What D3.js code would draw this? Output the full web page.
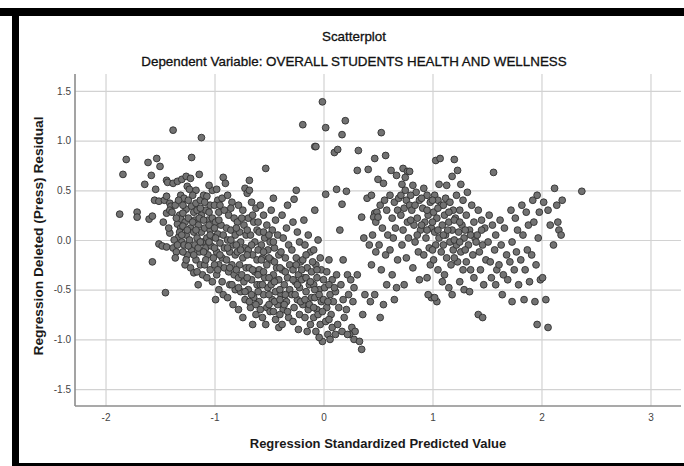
<!DOCTYPE html>
<html>
<head>
<meta charset="utf-8">
<script src="https://d3js.org/d3.v7.min.js"></script>
<style>
  body { margin: 0; background: #fff; }
  text { font-family: "Liberation Sans", Arial, sans-serif; }
</style>
</head>
<body>
<div class="plot"></div>
<script>
// chart texts
var chartTitle = "Scatterplot";
var chartSubtitle = "Dependent Variable: OVERALL STUDENTS HEALTH AND WELLNESS";
var xTitle = "Regression Standardized Predicted Value";
var yTitle = "Regression Deleted (Press) Residual";

// tick values
var xTicks = [-2, -1, 0, 1, 2, 3];
var yTicks = [-1.5, -1.0, -0.5, 0.0, 0.5, 1.0, 1.5];

// [predicted, residual]
var leftPoints = [
  [-1.87,0.26],[-1.84,0.66],[-1.81,0.81],[-1.71,0.28],[-1.71,0.23],
  [-1.64,0.56],[-1.61,0.78],[-1.60,0.21],[-1.58,0.65],[-1.57,0.24],[-1.55,0.40],[-1.53,0.82],[-1.54,0.51],
  [-1.51,0.39],[-1.50,0.74],[-1.51,-0.04],[-1.57,-0.22],
  [-1.48,-0.06],[-1.46,0.40],[-1.44,0.44],[-1.44,0.60],[-1.43,0.58],[-1.44,0.27],[-1.41,0.37],[-1.40,0.34],
  [-1.41,0.30],[-1.44,-0.07],[-1.41,0.07],[-1.45,-0.53],[-1.42,0.12],[-1.47,0.18],
  [-1.38,1.105],[-1.38,0.57],[-1.34,0.59],[-1.39,0.28],[-1.32,0.25],[-1.31,0.21],[-1.34,0.16],[-1.31,0.12],
  [-1.31,0.45],[-1.33,0.03],[-1.38,-0.08],[-1.35,-0.12],[-1.36,-0.18],[-1.30,-0.02],[-1.32,0.08],[-1.37,0.0],
  [-1.30,0.61],[-1.26,0.64],[-1.22,0.62],[-1.25,0.54],[-1.23,0.51],[-1.26,0.31],[-1.21,0.34],[-1.21,0.83],
  [-1.28,0.42],[-1.27,0.18],[-1.24,0.22],[-1.22,0.12],[-1.26,0.05],[-1.23,0.0],[-1.28,-0.05],[-1.25,-0.15],
  [-1.21,-0.10],[-1.27,-0.25],[-1.22,-0.28],[-1.29,0.27],
  [-1.19,0.28],[-1.17,0.37],[-1.17,0.50],[-1.13,0.40],[-1.14,0.66],[-1.12,1.03],[-1.18,0.20],[-1.15,0.15],
  [-1.12,0.25],[-1.19,0.08],[-1.16,0.02],[-1.12,0.08],[-1.18,-0.05],[-1.14,-0.12],[-1.11,-0.02],[-1.17,-0.20],
  [-1.13,-0.25],[-1.19,-0.33],[-1.11,-0.35],[-1.15,-0.45],
  [-1.10,0.45],[-1.07,0.44],[-1.02,0.50],[-1.08,0.30],[-1.04,0.35],[-1.06,0.20],[-1.02,0.22],[-1.09,0.12],
  [-1.04,0.10],[-1.07,0.02],[-1.01,0.03],[-1.08,-0.08],[-1.03,-0.06],[-1.06,-0.15],[-1.01,-0.18],[-1.09,-0.25],
  [-1.04,-0.30],[-1.07,-0.38],[-1.02,-0.42],[-1.05,0.55],
  [-0.98,0.51],[-0.92,0.63],[-0.90,0.57],[-0.97,0.40],[-0.93,0.42],[-0.96,0.28],[-0.91,0.30],[-0.99,0.18],
  [-0.94,0.15],[-0.97,0.06],[-0.92,0.05],[-0.95,-0.03],[-0.91,-0.08],[-0.98,-0.12],[-0.93,-0.18],[-0.96,-0.25],
  [-0.91,-0.28],[-0.98,-0.35],[-0.93,-0.42],[-0.96,-0.50],[-0.92,-0.55],[-0.99,-0.60],
  [-0.88,0.45],[-0.84,0.38],[-0.87,0.25],[-0.82,0.22],[-0.89,0.12],[-0.85,0.10],[-0.81,0.05],[-0.88,0.0],
  [-0.83,-0.05],[-0.86,-0.12],[-0.81,-0.15],[-0.89,-0.20],[-0.84,-0.25],[-0.87,-0.32],[-0.82,-0.35],[-0.86,-0.45],
  [-0.81,-0.50],[-0.88,-0.58],[-0.83,-0.65],[-0.85,0.32],
  [-0.72,0.52],[-0.70,0.47],[-0.78,0.35],[-0.74,0.30],[-0.79,0.18],[-0.73,0.15],[-0.77,0.08],[-0.71,0.05],
  [-0.76,-0.02],[-0.72,-0.08],[-0.79,-0.12],[-0.74,-0.18],[-0.77,-0.25],[-0.71,-0.28],[-0.78,-0.38],[-0.73,-0.42],
  [-0.76,-0.52],[-0.72,-0.60],[-0.78,-0.70],[-0.74,-0.78],
  [-0.68,0.60],[-0.68,0.50],[-0.66,0.38],[-0.62,0.32],[-0.69,0.22],[-0.64,0.18],[-0.61,0.10],[-0.67,0.05],
  [-0.63,-0.02],[-0.69,-0.10],[-0.65,-0.15],[-0.61,-0.20],[-0.68,-0.28],[-0.63,-0.32],[-0.66,-0.40],[-0.61,-0.45],
  [-0.69,-0.50],[-0.64,-0.58],[-0.67,-0.68],[-0.62,-0.75],[-0.65,-0.85],
  [-0.53,0.72],[-0.58,0.35],[-0.55,0.25],[-0.52,0.15],[-0.59,0.08],[-0.54,0.02],[-0.57,-0.05],[-0.51,-0.10],
  [-0.56,-0.18],[-0.52,-0.25],[-0.59,-0.30],[-0.54,-0.38],[-0.58,-0.45],[-0.51,-0.48],[-0.55,-0.55],[-0.59,-0.62],
  [-0.52,-0.68],[-0.56,-0.78],[-0.53,-0.85],[-0.57,-0.20],
  [-0.48,0.30],[-0.44,0.20],[-0.47,0.10],[-0.42,0.05],[-0.49,-0.02],[-0.45,-0.08],[-0.41,-0.15],[-0.48,-0.20],
  [-0.43,-0.28],[-0.46,-0.35],[-0.41,-0.40],[-0.48,-0.45],[-0.44,-0.52],[-0.47,-0.60],[-0.42,-0.65],[-0.49,-0.72],
  [-0.44,-0.80],[-0.41,-0.88],[-0.46,0.42],
  [-0.38,0.25],[-0.34,0.12],[-0.37,0.02],[-0.32,-0.05],[-0.39,-0.12],[-0.35,-0.18],[-0.31,-0.25],[-0.38,-0.30],
  [-0.33,-0.38],[-0.36,-0.45],[-0.31,-0.50],[-0.39,-0.55],[-0.34,-0.62],[-0.37,-0.70],[-0.32,-0.78],[-0.38,-0.85],
  [-0.33,0.35],
  [-0.25,0.50],[-0.27,0.41],[-0.28,0.18],[-0.24,0.08],[-0.22,-0.02],[-0.29,-0.10],[-0.25,-0.18],[-0.21,-0.22],
  [-0.28,-0.30],[-0.23,-0.35],[-0.26,-0.42],[-0.22,-0.48],[-0.29,-0.55],[-0.24,-0.60],[-0.27,-0.68],[-0.22,-0.75],
  [-0.28,-0.82],[-0.23,-0.90],[-0.19,1.16],
  [-0.18,0.20],[-0.14,0.05],[-0.17,-0.05],[-0.12,-0.12],[-0.19,-0.20],[-0.15,-0.28],[-0.11,-0.32],[-0.18,-0.38],
  [-0.13,-0.45],[-0.16,-0.52],[-0.11,-0.58],[-0.19,-0.65],[-0.14,-0.70],[-0.17,-0.78],[-0.12,-0.85],[-0.15,-0.92],
  [-0.08,0.94],[-0.07,0.94],[-0.08,0.30],[-0.05,0.0],[-0.09,-0.10],[-0.03,-0.18],[-0.07,-0.25],[-0.02,-0.30],
  [-0.06,-0.38],[-0.09,-0.45],[-0.04,-0.50],[-0.08,-0.58],[-0.02,-0.62],[-0.06,-0.70],[-0.09,-0.78],[-0.03,-0.85],
  [-0.07,-0.92],[-0.01,-1.02],[-0.04,-0.98],
  [-0.01,1.39],[0.02,1.13],[0.02,0.46],[0.05,-0.20],[0.03,-0.32],[0.08,-0.40],[0.01,-0.48],[0.06,-0.55],
  [0.09,-0.62],[0.03,-0.68],[0.07,-0.75],[0.02,-0.82],[0.08,-0.88],[0.04,-0.95],[0.06,-1.0],
  [0.10,0.88],[0.13,0.91],[0.12,0.51],[0.17,0.36],[0.17,1.06],[0.20,1.2],[0.12,-0.35],[0.16,-0.45],
  [0.11,-0.52],[0.18,-0.60],[0.14,-0.68],[0.19,-0.78],[0.13,-0.85],[0.17,-0.92],[0.11,-0.95],[0.15,0.1],[0.18,-0.2],
  [0.21,0.49],[0.22,-0.35],[0.25,-0.40],[0.28,-0.48],[0.23,-0.55],[0.27,-0.62],[0.21,-0.70],[0.26,-0.88],
  [0.29,-0.92],[0.24,-0.95],[0.28,-1.0],[0.22,-0.95],
  [0.32,0.90],[0.31,0.70],[0.35,0.23],[0.33,-1.02],[0.35,-1.1],[0.38,-0.55],[0.36,-0.75],[0.31,-0.35],[0.37,0.02]
];

// the densest part of the left cloud
var leftCore = [
  [-1.36,0.35],[-1.33,0.40],[-1.29,0.35],[-1.24,0.40],[-1.20,0.45],[-1.16,0.30],[-1.13,0.32],[-1.09,0.38],
  [-1.05,0.28],[-1.00,0.35],[-0.95,0.35],
  [-1.35,0.22],[-1.29,0.14],[-1.25,0.10],[-1.20,0.18],[-1.14,0.22],[-1.10,0.20],[-1.05,0.15],[-1.00,0.12],[-0.96,0.20],
  [-1.34,-0.05],[-1.29,-0.12],[-1.24,-0.06],[-1.19,-0.15],[-1.15,-0.08],[-1.10,-0.12],[-1.05,-0.02],[-1.00,-0.08],
  [-0.95,-0.15],[-1.30,0.05],[-1.17,0.10],[-1.13,-0.02],[-1.04,0.05],[-0.99,0.02],[-1.26,-0.20],[-1.16,-0.32],
  [-1.08,-0.20],[-1.00,-0.25],[-0.97,-0.30],
  [-0.88,-0.08],[-0.85,0.0],[-0.80,-0.05],[-0.76,-0.10],[-0.70,-0.15],[-0.66,-0.05],[-0.60,-0.10],[-0.55,-0.12],
  [-0.50,-0.18],[-0.45,-0.22],[-0.40,-0.28],[-0.35,-0.32],
  [-0.86,-0.28],[-0.80,-0.30],[-0.75,-0.35],[-0.70,-0.38],[-0.65,-0.30],[-0.60,-0.35],[-0.55,-0.32],[-0.50,-0.38],
  [-0.45,-0.42],[-0.40,-0.50],[-0.35,-0.55],
  [-0.84,-0.45],[-0.78,-0.48],[-0.72,-0.52],[-0.66,-0.55],[-0.60,-0.52],[-0.56,-0.45],[-0.50,-0.55],[-0.45,-0.62],
  [-0.40,-0.60],[-0.36,-0.65],
  [-0.80,0.12],[-0.75,0.22],[-0.70,0.10],[-0.65,0.25],[-0.60,0.18],[-0.55,0.08],[-0.50,0.05],[-0.46,-0.02],
  [-0.68,-0.62],[-0.62,-0.65],[-0.58,-0.70],[-0.50,-0.65],[-0.46,-0.72],[-0.40,-0.75],[-0.33,-0.72],
  [-0.28,-0.40],[-0.24,-0.45],[-0.20,-0.40],[-0.16,-0.38],[-0.12,-0.42],[-0.08,-0.50],[-0.04,-0.55],[0.0,-0.60],[0.04,-0.62],
  [-0.26,-0.55],[-0.21,-0.62],[-0.17,-0.60],[-0.13,-0.65],[-0.09,-0.68],[-0.05,-0.75],[-0.01,-0.72],[0.05,-0.80],
  [-0.25,-0.25],[-0.20,-0.30],[-0.16,-0.15],[-0.10,-0.22],[-0.06,-0.30],[0.0,-0.40],[0.05,-0.45],[0.10,-0.48]
];

var rightPoints = [
  [0.41,0.71],[0.47,0.82],[0.40,0.42],[0.44,0.45],[0.47,0.27],[0.49,0.28],[0.46,0.23],[0.48,0.18],
  [0.45,0.05],[0.42,-0.05],[0.48,-0.12],[0.44,-0.25],[0.47,-0.55],[0.43,-0.62],
  [0.53,1.08],[0.57,0.85],[0.50,0.61],[0.55,0.57],[0.50,0.23],[0.52,0.35],[0.56,0.40],[0.58,0.30],
  [0.54,0.12],[0.59,0.05],[0.51,-0.05],[0.57,-0.15],[0.53,-0.30],[0.58,-0.45],[0.55,-0.65],[0.52,-0.78],
  [0.62,0.70],[0.67,0.65],[0.61,0.45],[0.65,0.38],[0.68,0.30],[0.63,0.22],[0.66,0.12],[0.69,0.42],
  [0.64,0.02],[0.61,-0.10],[0.68,-0.2],[0.63,-0.35],[0.67,-0.48],[0.65,-0.6],
  [0.73,0.72],[0.77,0.69],[0.79,0.69],[0.75,0.63],[0.72,0.56],[0.71,0.45],[0.76,0.40],[0.74,0.32],
  [0.79,0.35],[0.71,0.25],[0.77,0.18],[0.73,0.10],[0.78,0.02],[0.72,-0.05],[0.76,-0.18],[0.74,-0.45],
  [0.82,0.55],[0.85,0.48],[0.88,0.40],[0.81,0.30],[0.86,0.22],[0.83,0.15],[0.89,0.10],[0.84,-0.02],
  [0.87,-0.12],[0.82,-0.28],[0.88,-0.40],
  [0.92,0.52],[0.95,0.45],[0.98,0.38],[0.91,0.32],[0.96,0.25],[0.93,0.18],[0.99,0.12],[0.94,0.02],
  [0.97,-0.08],[0.92,-0.15],[0.98,-0.25],[0.95,-0.38],[0.99,-0.58],[0.96,-0.55],
  [1.03,0.80],[1.07,0.82],[1.06,0.56],[1.02,0.45],[1.05,0.40],[1.08,0.35],[1.01,0.28],[1.04,0.22],
  [1.09,0.15],[1.02,0.08],[1.06,0.02],[1.03,-0.05],[1.08,-0.12],[1.01,-0.20],[1.05,-0.30],[1.09,-0.42],
  [1.04,-0.62],[1.02,-0.58],
  [1.13,0.55],[1.18,0.64],[1.20,0.81],[1.12,0.42],[1.16,0.38],[1.19,0.30],[1.11,0.25],[1.15,0.18],
  [1.18,0.10],[1.12,0.05],[1.16,-0.02],[1.19,-0.10],[1.13,-0.18],[1.17,-0.25],[1.11,-0.35],[1.15,-0.48],[1.18,-0.55],
  [1.23,0.70],[1.26,0.56],[1.22,0.45],[1.28,0.40],[1.25,0.30],[1.21,0.22],[1.27,0.15],[1.24,0.08],
  [1.29,0.02],[1.22,-0.05],[1.26,-0.12],[1.23,-0.22],[1.28,-0.30],[1.25,-0.42],[1.29,-0.50],
  [1.32,0.48],[1.36,0.35],[1.31,0.25],[1.38,0.18],[1.34,0.10],[1.39,0.02],[1.33,-0.05],[1.37,-0.15],
  [1.31,-0.22],[1.35,-0.30],[1.38,-0.38],[1.34,-0.52],
  [1.42,0.30],[1.45,0.20],[1.48,0.12],[1.41,0.05],[1.46,-0.05],[1.43,-0.12],[1.49,-0.20],[1.44,-0.30],
  [1.47,-0.45],[1.42,-0.75],[1.46,-0.78],
  [1.56,0.68],[1.52,0.25],[1.55,0.15],[1.58,0.05],[1.51,-0.02],[1.57,-0.10],[1.53,-0.22],[1.59,-0.30],
  [1.54,-0.38],[1.58,-0.45],
  [1.62,0.20],[1.66,0.12],[1.63,-0.05],[1.68,-0.15],[1.61,-0.25],[1.65,-0.35],[1.69,-0.40],[1.64,-0.55],
  [1.72,0.30],[1.76,0.22],[1.78,0.10],[1.73,-0.02],[1.77,-0.12],[1.71,-0.22],[1.75,-0.30],[1.79,-0.45],[1.73,-0.62],
  [1.82,0.35],[1.86,0.28],[1.88,0.15],[1.83,0.05],[1.87,-0.10],[1.81,-0.20],[1.85,-0.30],[1.89,-0.42],[1.84,-0.60],
  [1.92,0.40],[1.96,0.45],[1.98,0.28],[1.93,0.18],[1.97,0.02],[1.91,-0.15],[1.95,-0.25],[1.99,-0.40],
  [1.94,-0.62],[1.96,-0.85],
  [2.02,0.38],[2.06,0.30],[2.01,-0.38],[2.04,-0.60],[2.06,-0.88],[2.08,0.15],
  [2.12,0.52],[2.14,0.35],[2.15,0.18],[2.16,0.10],[2.18,0.05],[2.19,0.40],[2.11,-0.05],
  [2.37,0.49]
];

// the densest part of the right cloud
var rightCore = [
  [0.75,0.50],[0.80,0.45],[0.84,0.35],[0.90,0.42],[0.95,0.30],[1.00,0.40],[1.05,0.32],[1.10,0.35],[1.15,0.28],
  [1.20,0.20],[1.25,0.18],
  [0.80,0.20],[0.86,0.05],[0.90,0.15],[0.95,0.10],[1.00,0.18],[1.05,0.10],[1.10,0.05],[1.14,0.10],[1.20,0.00],
  [1.25,-0.02],[1.30,0.10],
  [1.00,-0.10],[1.10,-0.05],[1.20,-0.18],[1.30,-0.10],[1.35,0.05],[1.40,-0.02],[1.45,0.10]
];

var svgWidth = 684;
var svgHeight = 466;

var margin = { top: 74, right: 3, bottom: 60, left: 75 };
var width = svgWidth - margin.left - margin.right;
var height = svgHeight - margin.top - margin.bottom;

var svg = d3.select(".plot")
  .append("svg")
  .attr("width", svgWidth)
  .attr("height", svgHeight);

// black frame round the output
svg.append("rect").attr("x", 0).attr("y", 8).attr("width", svgWidth).attr("height", 8).attr("fill", "#000");
svg.append("rect").attr("x", 12).attr("y", 8).attr("width", 7).attr("height", svgHeight - 8).attr("fill", "#000");
svg.append("rect").attr("x", 12).attr("y", 463).attr("width", svgWidth - 12).attr("height", 3).attr("fill", "#000");

// titles
svg.append("text")
  .attr("x", 354).attr("y", 41)
  .attr("text-anchor", "middle")
  .attr("font-size", "13.4px")
  .attr("fill", "#111").attr("stroke", "#111").attr("stroke-width", 0.3)
  .text(chartTitle);

svg.append("text")
  .attr("x", 354).attr("y", 66)
  .attr("text-anchor", "middle")
  .attr("font-size", "13.4px")
  .attr("fill", "#111").attr("stroke", "#111").attr("stroke-width", 0.3)
  .text(chartSubtitle);

var chartGroup = svg.append("g")
  .attr("transform", `translate(${margin.left}, ${margin.top})`);

// scales
var xScale = d3.scaleLinear()
  .domain([-2.28, 3.28])
  .range([0, width]);

var yScale = d3.scaleLinear()
  .domain([-1.67, 1.67])
  .range([height, 0]);

// axes with full-length ticks as grid lines
var xAxis = d3.axisBottom(xScale)
  .tickValues(xTicks)
  .tickSize(-height)
  .tickSizeOuter(0)
  .tickPadding(8)
  .tickFormat(d => String(d));

var yAxis = d3.axisLeft(yScale)
  .tickValues(yTicks)
  .tickSize(-width)
  .tickSizeOuter(0)
  .tickPadding(4)
  .tickFormat(d => d.toFixed(1));

var gx = chartGroup.append("g")
  .attr("transform", `translate(0, ${height})`)
  .call(xAxis);

var gy = chartGroup.append("g")
  .call(yAxis);

[gx, gy].forEach(function (g) {
  g.selectAll(".tick line").attr("stroke", "#d2d2d2").attr("stroke-width", 1.2);
  g.selectAll(".tick text").attr("font-size", "10px").attr("fill", "#444")
    .attr("font-family", "Liberation Sans, Arial, sans-serif");
  g.select(".domain").remove();
});

// points
var allPoints = leftPoints.concat(leftCore, rightPoints, rightCore);
chartGroup.selectAll("circle")
  .data(allPoints)
  .enter()
  .append("circle")
  .attr("cx", d => xScale(d[0]))
  .attr("cy", d => yScale(d[1]))
  .attr("r", 3.4)
  .attr("fill", "#727272")
  .attr("stroke", "#303030")
  .attr("stroke-width", 0.9);

// axis lines
chartGroup.append("line")
  .attr("x1", 0).attr("x2", 0).attr("y1", 0).attr("y2", height)
  .attr("stroke", "#8c8c8c").attr("stroke-width", 1.6);
chartGroup.append("line")
  .attr("x1", 0).attr("x2", width).attr("y1", height).attr("y2", height)
  .attr("stroke", "#8c8c8c").attr("stroke-width", 1.6);

// axis titles
svg.append("text")
  .attr("x", 378).attr("y", 448)
  .attr("text-anchor", "middle")
  .attr("font-size", "13px")
  .attr("font-weight", "bold")
  .attr("fill", "#1a1a1a")
  .text(xTitle);

svg.append("text")
  .attr("transform", "translate(43, 236) rotate(-90)")
  .attr("text-anchor", "middle")
  .attr("font-size", "13.7px")
  .attr("font-weight", "bold")
  .attr("fill", "#1a1a1a")
  .text(yTitle);
</script>
</body>
</html>
